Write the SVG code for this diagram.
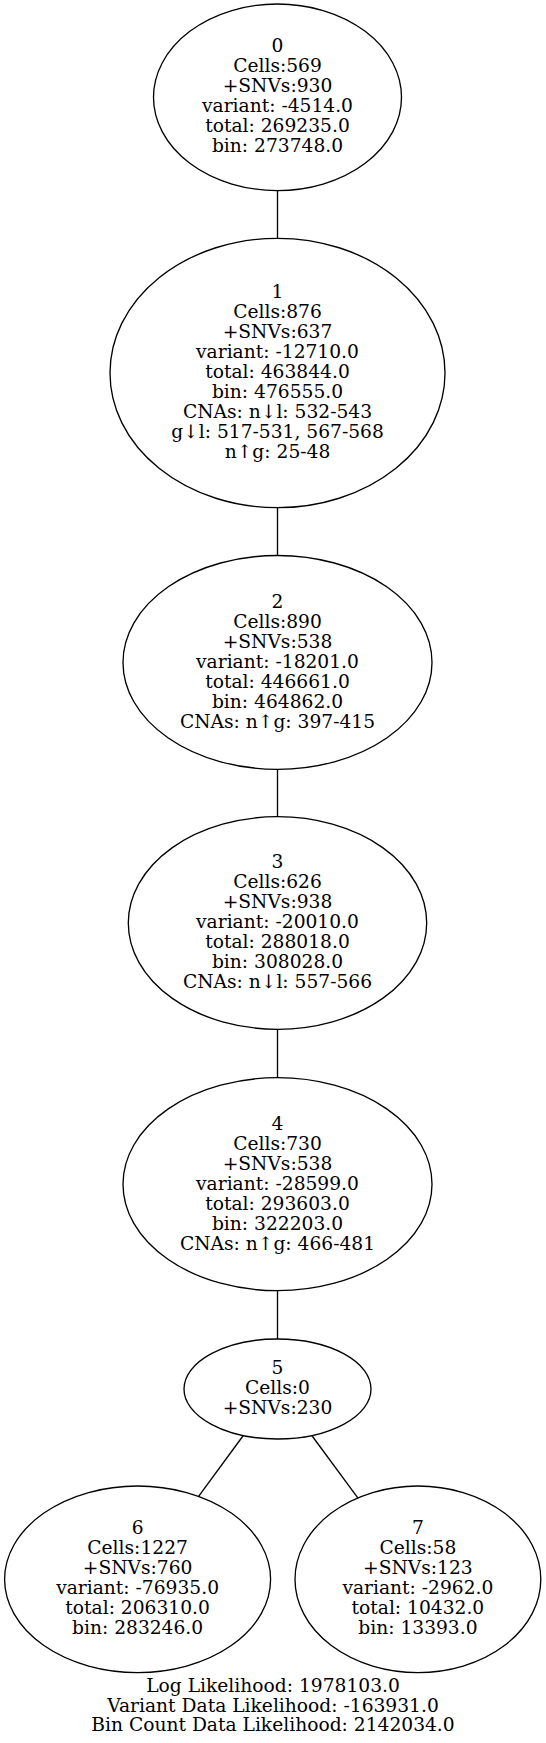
<svg xmlns="http://www.w3.org/2000/svg" width="546" height="1743" viewBox="0 0 546 1743">
<style>
  .n ellipse { fill: none; stroke: #000; stroke-width: 1.33; }
  text { font-family: "DejaVu Serif", serif; font-size: 18.67px; text-anchor: middle; fill: #000; }
  .e line { stroke: #000; stroke-width: 1.33; }
</style>
<rect x="0" y="0" width="546" height="1743" fill="#fff"/>
<g class="e" id="edges">
  <line x1="277.5" y1="190.7" x2="277.5" y2="238.3"/>
  <line x1="277.5" y1="507.7" x2="277.5" y2="555.5"/>
  <line x1="277.5" y1="769.3" x2="277.5" y2="816.7"/>
  <line x1="277.5" y1="1029.3" x2="277.5" y2="1077.7"/>
  <line x1="277.5" y1="1290.7" x2="277.5" y2="1339"/>
  <line x1="243.3" y1="1435.5" x2="198.6" y2="1496.4"/>
  <line x1="311.8" y1="1435.5" x2="357.8" y2="1497.9"/>
</g>
<g class="n" id="node0">
  <ellipse cx="277.5" cy="97.3" rx="124" ry="93.3"/>
  <text x="277.5" y="52.3">0</text>
  <text x="277.5" y="72.3">Cells:569</text>
  <text x="277.5" y="92.3">+SNVs:930</text>
  <text x="277.5" y="112.3">variant: -4514.0</text>
  <text x="277.5" y="132.3">total: 269235.0</text>
  <text x="277.5" y="152.3">bin: 273748.0</text>
</g>
<g class="n" id="node1">
  <ellipse cx="277.5" cy="373" rx="167.5" ry="134.7"/>
  <text x="277.5" y="297.5">1</text>
  <text x="277.5" y="317.5">Cells:876</text>
  <text x="277.5" y="337.5">+SNVs:637</text>
  <text x="277.5" y="357.5">variant: -12710.0</text>
  <text x="277.5" y="377.5">total: 463844.0</text>
  <text x="277.5" y="397.5">bin: 476555.0</text>
  <text x="277.5" y="417.5">CNAs: n↓l: 532-543</text>
  <text x="277.5" y="437.5">g↓l: 517-531, 567-568</text>
  <text x="277.5" y="457.5">n↑g: 25-48</text>
</g>
<g class="n" id="node2">
  <ellipse cx="277.5" cy="662.4" rx="154.5" ry="106.9"/>
  <text x="277.5" y="607.5">2</text>
  <text x="277.5" y="627.5">Cells:890</text>
  <text x="277.5" y="647.5">+SNVs:538</text>
  <text x="277.5" y="667.5">variant: -18201.0</text>
  <text x="277.5" y="687.5">total: 446661.0</text>
  <text x="277.5" y="707.5">bin: 464862.0</text>
  <text x="277.5" y="727.5">CNAs: n↑g: 397-415</text>
</g>
<g class="n" id="node3">
  <ellipse cx="277.5" cy="923" rx="149.2" ry="106.3"/>
  <text x="277.5" y="868.2">3</text>
  <text x="277.5" y="888.2">Cells:626</text>
  <text x="277.5" y="908.2">+SNVs:938</text>
  <text x="277.5" y="928.2">variant: -20010.0</text>
  <text x="277.5" y="948.2">total: 288018.0</text>
  <text x="277.5" y="968.2">bin: 308028.0</text>
  <text x="277.5" y="988.2">CNAs: n↓l: 557-566</text>
</g>
<g class="n" id="node4">
  <ellipse cx="277.5" cy="1184.2" rx="154.5" ry="106.5"/>
  <text x="277.5" y="1129.6">4</text>
  <text x="277.5" y="1149.6">Cells:730</text>
  <text x="277.5" y="1169.6">+SNVs:538</text>
  <text x="277.5" y="1189.6">variant: -28599.0</text>
  <text x="277.5" y="1209.6">total: 293603.0</text>
  <text x="277.5" y="1229.6">bin: 322203.0</text>
  <text x="277.5" y="1249.6">CNAs: n↑g: 466-481</text>
</g>
<g class="n" id="node5">
  <ellipse cx="277.5" cy="1389" rx="93.5" ry="50"/>
  <text x="277.5" y="1373.7">5</text>
  <text x="277.5" y="1393.7">Cells:0</text>
  <text x="277.5" y="1413.7">+SNVs:230</text>
</g>
<g class="n" id="node6">
  <ellipse cx="137.6" cy="1579.3" rx="133" ry="93.3"/>
  <text x="137.6" y="1534.3">6</text>
  <text x="137.6" y="1554.3">Cells:1227</text>
  <text x="137.6" y="1574.3">+SNVs:760</text>
  <text x="137.6" y="1594.3">variant: -76935.0</text>
  <text x="137.6" y="1614.3">total: 206310.0</text>
  <text x="137.6" y="1634.3">bin: 283246.0</text>
</g>
<g class="n" id="node7">
  <ellipse cx="417.9" cy="1579.3" rx="122.9" ry="93.3"/>
  <text x="417.9" y="1534.3">7</text>
  <text x="417.9" y="1554.3">Cells:58</text>
  <text x="417.9" y="1574.3">+SNVs:123</text>
  <text x="417.9" y="1594.3">variant: -2962.0</text>
  <text x="417.9" y="1614.3">total: 10432.0</text>
  <text x="417.9" y="1634.3">bin: 13393.0</text>
</g>
<g id="graph-label">
  <text x="273" y="1692">Log Likelihood: 1978103.0</text>
  <text x="273" y="1711.5">Variant Data Likelihood: -163931.0</text>
  <text x="273" y="1731">Bin Count Data Likelihood: 2142034.0</text>
</g>
</svg>
